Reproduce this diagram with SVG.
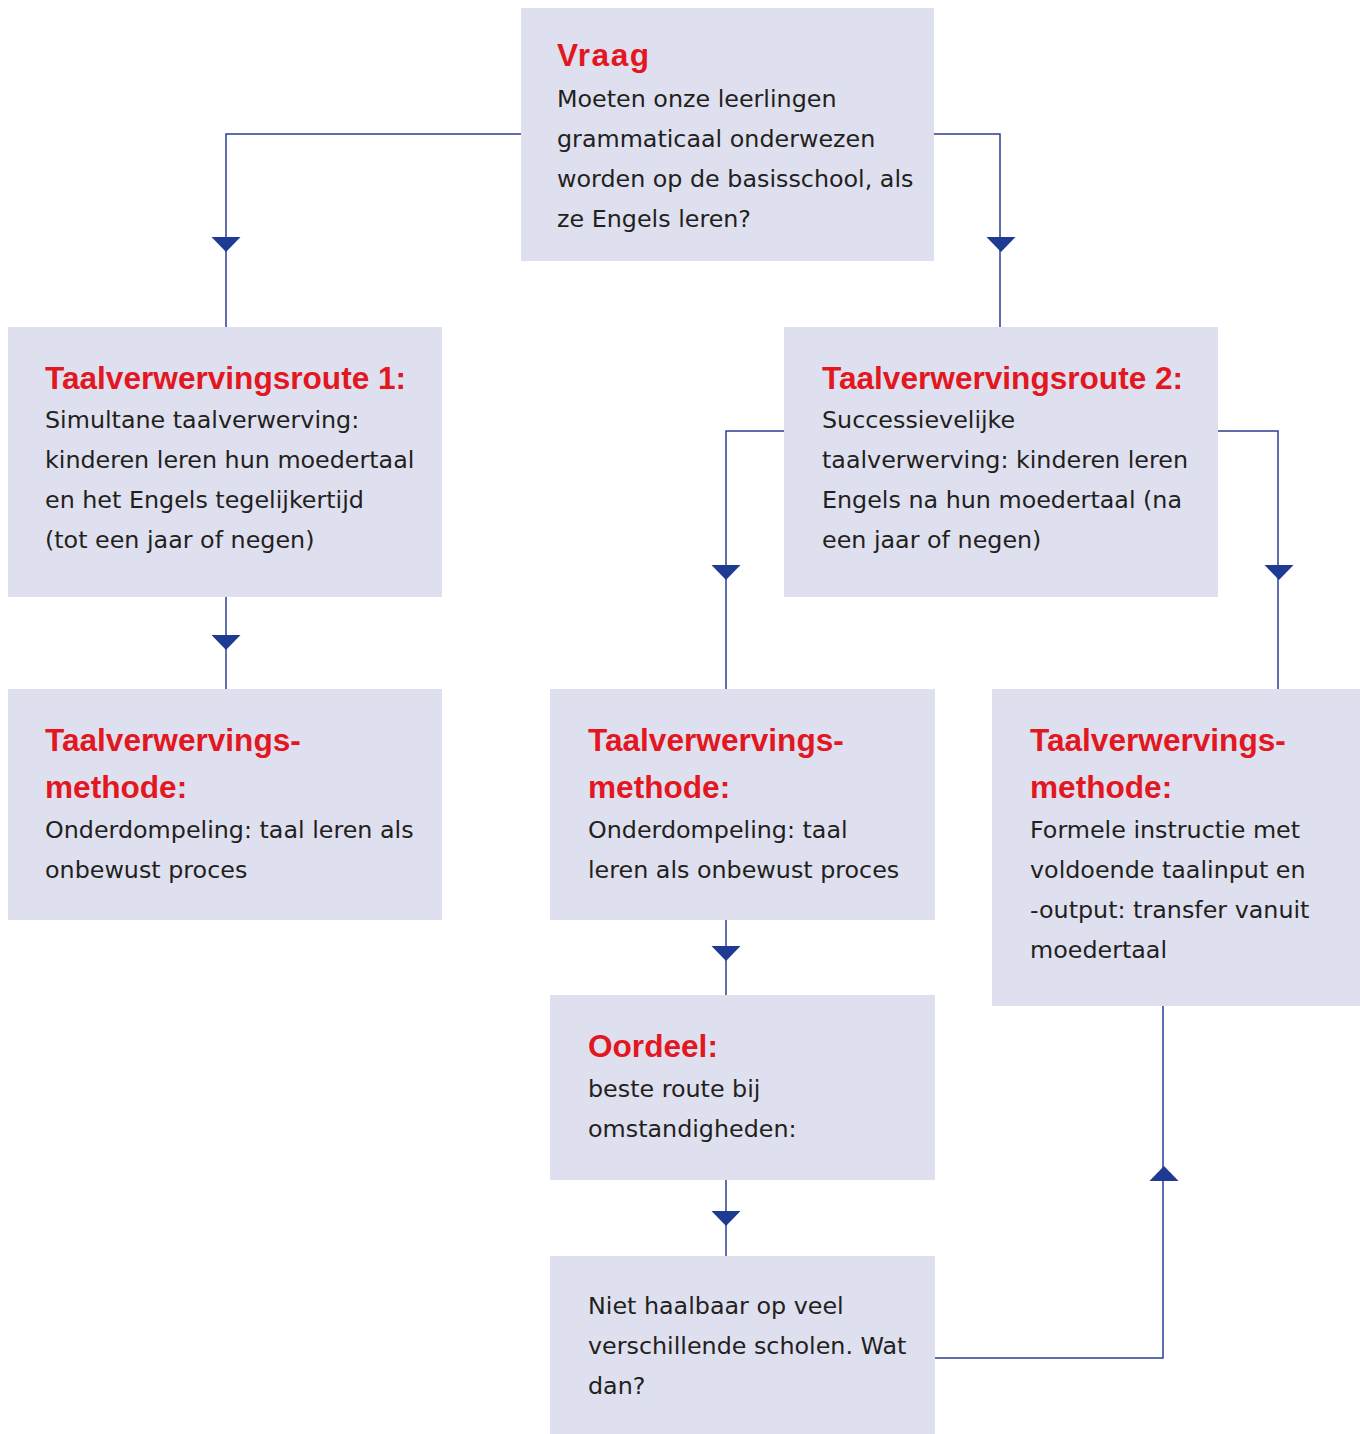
<svg xmlns="http://www.w3.org/2000/svg" width="1360" height="1434" viewBox="0 0 1360 1434">
<style>
.box{fill:#dfe0ef}
.t{font-family:"Liberation Sans",Arial,sans-serif;font-weight:bold;font-size:31.6px;fill:#e2171f}
.b{font-family:"DejaVu Sans",Verdana,sans-serif;font-size:23.8px;fill:#231f20}
.ln{fill:none;stroke:#2c3f93;stroke-width:1.5}
.ah{fill:#1f3a93}
</style>
<defs>
<polygon id="down" class="ah" points="-14.5,0 14.5,0 0,15"/>
<polygon id="up" class="ah" points="-14.5,0 14.5,0 0,-15"/>
</defs>
<rect width="1360" height="1434" fill="#ffffff"/>
<g id="connectors">
<path class="ln" d="M521,134 H226 V327"/>
<use href="#down" x="226" y="237"/>
<path class="ln" d="M934,134 H1000 V327"/>
<use href="#down" x="1001" y="237"/>
<path class="ln" d="M226,597 V689"/>
<use href="#down" x="226" y="635"/>
<path class="ln" d="M784,431 H726 V689"/>
<use href="#down" x="726" y="565"/>
<path class="ln" d="M1217,431 H1278 V689"/>
<use href="#down" x="1279" y="565"/>
<path class="ln" d="M726,920 V995"/>
<use href="#down" x="726" y="946"/>
<path class="ln" d="M726,1180 V1256"/>
<use href="#down" x="726" y="1211"/>
<path class="ln" d="M934,1358 H1163 V1006"/>
<use href="#up" x="1164" y="1181"/>
</g>
<g id="vraag">
<rect class="box" x="521" y="8" width="413" height="253"/>
<text class="t" x="557" y="66" letter-spacing="1.5">Vraag</text>
<text class="b" x="557" y="107">Moeten onze leerlingen</text>
<text class="b" x="557" y="147">grammaticaal onderwezen</text>
<text class="b" x="557" y="187">worden op de basisschool, als</text>
<text class="b" x="557" y="227">ze Engels leren?</text>
</g>
<g id="route1">
<rect class="box" x="8" y="327" width="434" height="270"/>
<text class="t" x="45" y="389">Taalverwervingsroute 1:</text>
<text class="b" x="45" y="428">Simultane taalverwerving:</text>
<text class="b" x="45" y="468">kinderen leren hun moedertaal</text>
<text class="b" x="45" y="508">en het Engels tegelijkertijd</text>
<text class="b" x="45" y="548">(tot een jaar of negen)</text>
</g>
<g id="route2">
<rect class="box" x="784" y="327" width="434" height="270"/>
<text class="t" x="822" y="389">Taalverwervingsroute 2:</text>
<text class="b" x="822" y="428">Successievelijke</text>
<text class="b" x="822" y="468">taalverwerving: kinderen leren</text>
<text class="b" x="822" y="508">Engels na hun moedertaal (na</text>
<text class="b" x="822" y="548">een jaar of negen)</text>
</g>
<g id="methode1">
<rect class="box" x="8" y="689" width="434" height="231"/>
<text class="t" x="45" y="751">Taalverwervings-</text>
<text class="t" x="45" y="798">methode:</text>
<text class="b" x="45" y="838">Onderdompeling: taal leren als</text>
<text class="b" x="45" y="878">onbewust proces</text>
</g>
<g id="methode2">
<rect class="box" x="550" y="689" width="385" height="231"/>
<text class="t" x="588" y="751">Taalverwervings-</text>
<text class="t" x="588" y="798">methode:</text>
<text class="b" x="588" y="838">Onderdompeling: taal</text>
<text class="b" x="588" y="878">leren als onbewust proces</text>
</g>
<g id="methode3">
<rect class="box" x="992" y="689" width="368" height="317"/>
<text class="t" x="1030" y="751">Taalverwervings-</text>
<text class="t" x="1030" y="798">methode:</text>
<text class="b" x="1030" y="838">Formele instructie met</text>
<text class="b" x="1030" y="878">voldoende taalinput en</text>
<text class="b" x="1030" y="918">-output: transfer vanuit</text>
<text class="b" x="1030" y="958">moedertaal</text>
</g>
<g id="oordeel">
<rect class="box" x="550" y="995" width="385" height="185"/>
<text class="t" x="588" y="1057">Oordeel:</text>
<text class="b" x="588" y="1097">beste route bij</text>
<text class="b" x="588" y="1137">omstandigheden:</text>
</g>
<g id="niet">
<rect class="box" x="550" y="1256" width="385" height="178"/>
<text class="b" x="588" y="1314">Niet haalbaar op veel</text>
<text class="b" x="588" y="1354">verschillende scholen. Wat</text>
<text class="b" x="588" y="1394">dan?</text>
</g>
</svg>
